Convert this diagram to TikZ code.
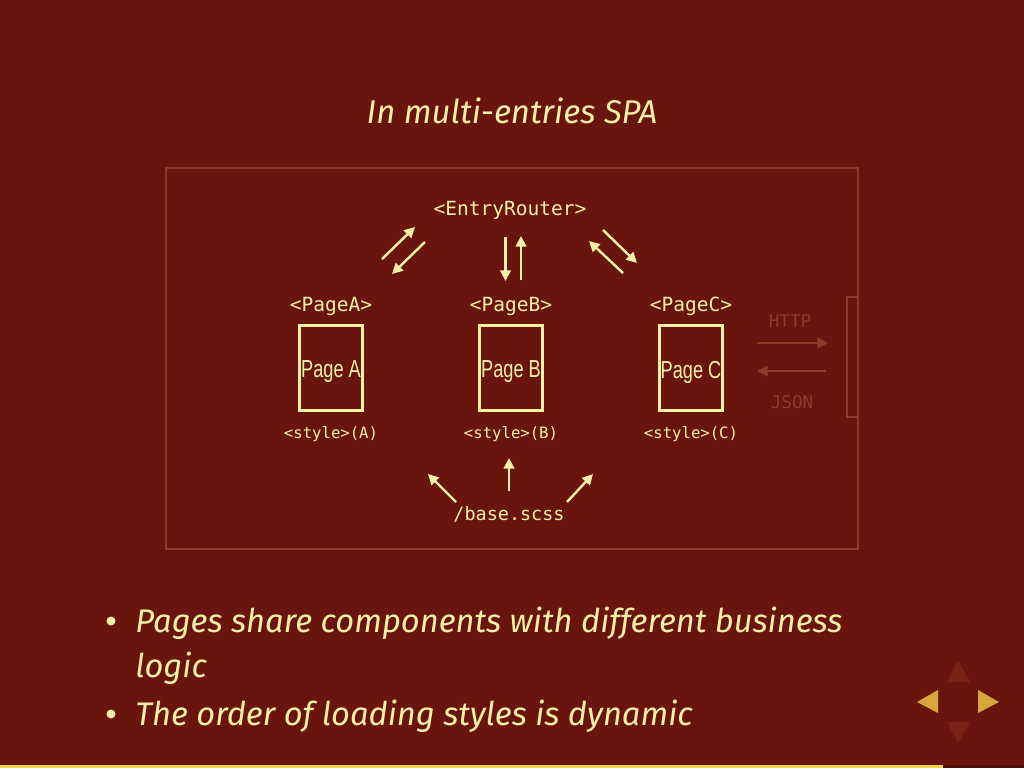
\documentclass[tikz,border=0pt]{standalone}
\usepackage{fontspec}
\setmainfont{Fira Sans}
\setmonofont{DejaVu Sans Mono}
\newfontfamily\condfont[FakeStretch=0.74]{Liberation Sans}
\usetikzlibrary{arrows.meta}

\definecolor{slidebg}{HTML}{6A140E}
\definecolor{chalk}{HTML}{F6EFA6}
\definecolor{faint}{HTML}{8E3B2A}
\definecolor{navgold}{HTML}{D6A83C}
\definecolor{navdim}{HTML}{7A2214}
\definecolor{barfill}{HTML}{F7D548}
\definecolor{bardark}{HTML}{4E0D09}

% one page column: tag above, box, style tag below
\newcommand{\DrawPage}[3]{
    \node[tag] (tag#2) at (#1, 306) {<Page#3>};
    \node[pagebox] (box#2) at (#1, 368) {};
    \node[pagetext] (txt#2) at (#1, 372) {Page #3};
    \node[styletag] (sty#2) at (#1, 434) {<style>(#3)};
}

\begin{document}
\begin{tikzpicture}[
  x=0.02cm, y=-0.02cm,
  tag/.style={text=chalk, font=\ttfamily\fontsize{11.1}{13}\selectfont, inner sep=0pt},
  styletag/.style={text=chalk, font=\ttfamily\fontsize{8.9}{11}\selectfont, inner sep=0pt},
  pagebox/.style={draw=chalk, line width=1.4pt, minimum width=1.26cm, minimum height=1.70cm, inner sep=0pt},
  pagetext/.style={text=chalk, font=\condfont\fontsize{14}{16}\selectfont, inner sep=0pt},
  arr/.style={draw=chalk, line width=1.4pt, -{Triangle[length=6pt,width=6pt]}},
  dimarr/.style={draw=faint, line width=1.4pt, -{Triangle[length=6pt,width=6pt]}},
  bullet/.style={text=chalk, font=\itshape\fontsize{18.6}{22}\selectfont, inner sep=0pt}
  ]
  % slide
  \fill[slidebg] (0,0) rectangle (1024,768);
  \fill[barfill] (0,765) rectangle (943,768);
  \fill[bardark] (943,765) rectangle (1024,768);

  \node[text=chalk, font=\itshape\fontsize{18.7}{22}\selectfont] (title) at (512,111) {In multi-entries SPA};

  % frame
  \draw[faint, line width=1pt] (166,168) rectangle (858,549);
  \draw[faint, line width=1pt] (847,297) rectangle (858,417);

  \node[tag] (router) at (510,210) {<EntryRouter>};
  \DrawPage{331}{A}{A}
  \DrawPage{511}{B}{B}
  \DrawPage{691}{C}{C}
  \node[tag, font=\ttfamily\fontsize{10.5}{12}\selectfont] (base) at (509,514) {/base.scss};

  % router <-> pages
  \coordinate (ra1) at (382,259); \coordinate (ra2) at (415,227);
  \coordinate (ar1) at (425,242); \coordinate (ar2) at (392,274);
  \coordinate (rb1) at (505.5,237); \coordinate (rb2) at (505.5,281);
  \coordinate (br1) at (521,280); \coordinate (br2) at (521,236);
  \coordinate (rc1) at (603,230); \coordinate (rc2) at (637,263);
  \coordinate (cr1) at (623,273); \coordinate (cr2) at (589,241);
  \draw[arr] (ra1) -- (ra2);
  \draw[arr] (ar1) -- (ar2);
  \draw[arr] (rb1) -- (rb2);
  \draw[arr] (br1) -- (br2);
  \draw[arr] (rc1) -- (rc2);
  \draw[arr] (cr1) -- (cr2);

  % base.scss -> styles
  \coordinate (bA1) at (456,502); \coordinate (bA2) at (428,474);
  \coordinate (bB1) at (509,491); \coordinate (bB2) at (509,458);
  \coordinate (bC1) at (567,502); \coordinate (bC2) at (593,474);
  \draw[arr] (bA1) -- (bA2);
  \draw[arr] (bB1) -- (bB2);
  \draw[arr] (bC1) -- (bC2);

  % server side
  \node[tag, text=faint, font=\ttfamily\fontsize{10}{12}\selectfont] (http) at (790,321) {HTTP};
  \node[tag, text=faint, font=\ttfamily\fontsize{10}{12}\selectfont] (json) at (792,402) {JSON};
  \coordinate (h1) at (757,343); \coordinate (h2) at (828,343);
  \coordinate (j1) at (826,371); \coordinate (j2) at (757,371);
  \draw[dimarr] (h1) -- (h2);
  \draw[dimarr] (j1) -- (j2);

  % bullets
  \fill[chalk] (111,621) circle (4.5);
  \fill[chalk] (111,714) circle (4.5);
  \node[bullet, anchor=base west] (item1) at (135,632) {Pages share components with different business};
  \node[bullet, anchor=base west] (item1b) at (135,677) {logic};
  \node[bullet, anchor=base west] (item2) at (135,725) {The order of loading styles is dynamic};

  % navigation
  \fill[navgold] (917,702) -- (938,690) -- (938,713) -- cycle;
  \fill[navgold] (999,702) -- (978,690) -- (978,713) -- cycle;
  \fill[navdim] (958,660) -- (947,682) -- (970,682) -- cycle;
  \fill[navdim] (958,743) -- (947,722) -- (970,722) -- cycle;
\end{tikzpicture}
\end{document}
